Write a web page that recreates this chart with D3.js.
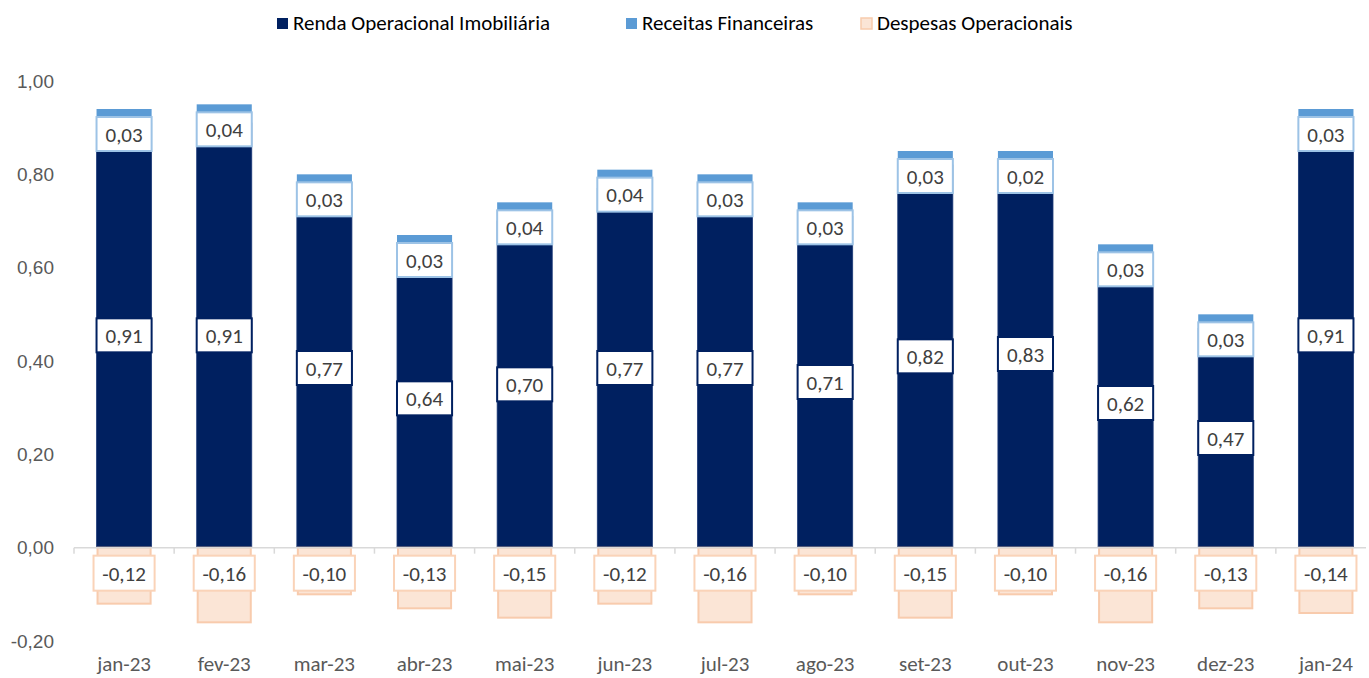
<!DOCTYPE html>
<html>
<head>
<meta charset="utf-8">
<script src="https://cdn.jsdelivr.net/npm/d3@7"></script>
<style>
  body { margin: 0; background: #fff; }
  svg { font-family: Carlito, Lato, "Open Sans", sans-serif; }
</style>
</head>
<body>
<svg width="1369" height="678"></svg>
<script>
const months = ['jan-23', 'fev-23', 'mar-23', 'abr-23', 'mai-23', 'jun-23', 'jul-23',
    'ago-23', 'set-23', 'out-23', 'nov-23', 'dez-23', 'jan-24'];
const renda = [0.91, 0.91, 0.77, 0.64, 0.70, 0.77, 0.77, 0.71, 0.82, 0.83, 0.62, 0.47, 0.91];
const receitas = [0.03, 0.04, 0.03, 0.03, 0.04, 0.04, 0.03, 0.03, 0.03, 0.02, 0.03, 0.03, 0.03];
const despesas = [-0.12, -0.16, -0.10, -0.13, -0.15, -0.12, -0.16, -0.10, -0.15, -0.10, -0.16, -0.13, -0.14];
const yTicks = [-0.2, 0, 0.2, 0.4, 0.6, 0.8, 1.0];
const seriesNames = ['Renda Operacional Imobiliária', 'Receitas Financeiras', 'Despesas Operacionais'];

const fmt = v => d3.format('.2f')(v).replace('.', ',').replace('−', '-');

var svg = d3.select('svg');

let x = d3.scaleBand()
    .domain(months)
    .range([74, 1376])
    .paddingInner(0.45)
    .paddingOuter(0.225);

let y = d3.scaleLinear()
    .domain([-0.2, 1.0])
    .range([641, 81]);

// y labels
svg.append('g')
    .attr('transform', 'translate(54,0)')
    .call(d3.axisLeft(y).tickValues(yTicks).tickSize(0).tickPadding(0).tickFormat(fmt))
    .call(g => g.select('.domain').remove())
    .call(g => g.selectAll('text')
        .attr('fill', '#595959')
        .attr('font-size', 19)
        .attr('font-family', null));

let data = months.map((m, i) => ({
    m: m, renda: renda[i], rec: receitas[i], desp: despesas[i]
}));

// dark bars
svg.selectAll('rect.renda').data(data).enter().append('rect')
    .attr('class', 'renda')
    .attr('x', d => x(d.m))
    .attr('width', x.bandwidth())
    .attr('y', d => y(d.renda))
    .attr('height', d => y(0) - y(d.renda))
    .attr('fill', '#002060')
    .attr('stroke', '#1d3a78')
    .attr('stroke-width', 0.8);

// light blue
svg.selectAll('rect.rec').data(data).enter().append('rect')
    .attr('class', 'rec')
    .attr('x', d => x(d.m))
    .attr('width', x.bandwidth())
    .attr('y', d => y(d.renda + d.rec))
    .attr('height', d => y(d.renda) - y(d.renda + d.rec))
    .attr('fill', '#5B9BD5');

// negative
svg.selectAll('rect.desp').data(data).enter().append('rect')
    .attr('class', 'desp')
    .attr('x', d => x(d.m) + 1)
    .attr('width', x.bandwidth() - 2)
    .attr('y', y(0))
    .attr('height', d => y(d.desp) - y(0))
    .attr('fill', '#FBE5D6')
    .attr('stroke', '#F8CBAD')
    .attr('stroke-width', 2);

// x axis
svg.append('line')
    .attr('x1', 74).attr('x2', 1366)
    .attr('y1', y(0)).attr('y2', y(0))
    .attr('stroke', '#D9D9D9')
    .attr('stroke-width', 1.5);

for (let i = 0; i < months.length; i++) {
    let tx = x(months[i]) - x.step() * x.paddingInner() / 2;
    svg.append('line')
        .attr('x1', tx).attr('x2', tx)
        .attr('y1', y(0)).attr('y2', y(0) + 6)
        .attr('stroke', '#D9D9D9')
        .attr('stroke-width', 1.5);
}

svg.selectAll('text.xlab').data(months).enter().append('text')
    .attr('class', 'xlab')
    .attr('x', d => x(d) + x.bandwidth() / 2)
    .attr('y', 671)
    .attr('text-anchor', 'middle')
    .attr('fill', '#595959')
    .attr('font-size', 21)
    .text(d => d);

// data label helper
function label(cx, top, w, h, txt, border) {
    svg.append('rect')
        .attr('x', cx - w / 2).attr('y', top)
        .attr('width', w).attr('height', h)
        .attr('fill', '#fff')
        .attr('stroke', border)
        .attr('stroke-width', 2);
    svg.append('text')
        .attr('x', cx).attr('y', top + h / 2 + 7.5)
        .attr('text-anchor', 'middle')
        .attr('fill', '#404040')
        .attr('font-size', 21)
        .text(txt);
}

data.forEach(d => {
    let cx = x(d.m) + x.bandwidth() / 2;
    label(cx, y(d.renda / 2) - 17, x.bandwidth(), 34, fmt(d.renda), '#002060');
    label(cx, y(d.renda + d.rec) + 8, x.bandwidth(), 34, fmt(d.rec), '#9DC3E6');
    label(cx, y(0) + 8, x.bandwidth() + 6, 35, fmt(d.desp), '#FAD3B8');
});

// legend
const legendX = [277, 626, 861];
const legendFill = ['#002060', '#5B9BD5', '#FBE5D6'];
const legendStroke = ['none', 'none', '#F8CBAD'];
seriesNames.forEach((s, i) => {
    svg.append('rect')
        .attr('x', legendX[i]).attr('y', 18)
        .attr('width', 11).attr('height', 11)
        .attr('fill', legendFill[i])
        .attr('stroke', legendStroke[i])
        .attr('stroke-width', 1.5);
    svg.append('text')
        .attr('x', legendX[i] + 16).attr('y', 30)
        .attr('fill', '#000')
        .attr('font-size', 21)
        .text(s);
});
</script>
</body>
</html>
